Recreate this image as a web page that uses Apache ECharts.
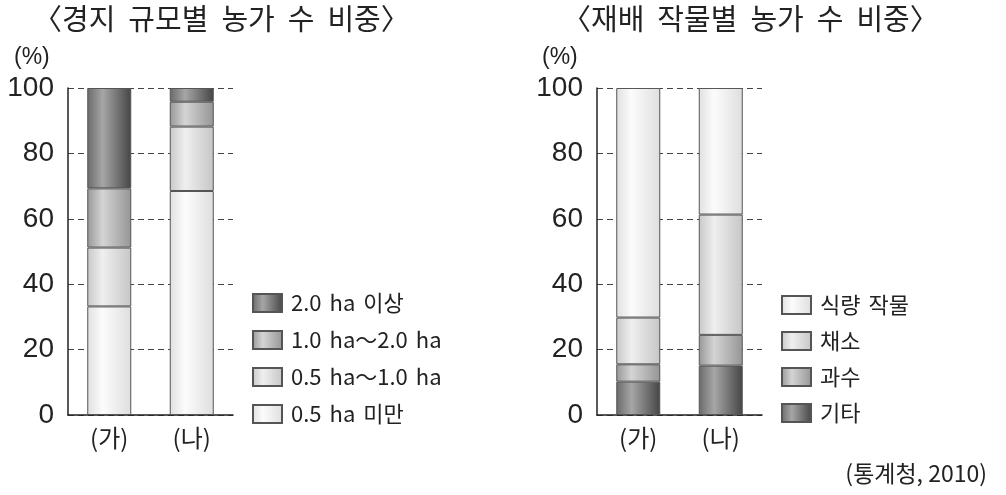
<!DOCTYPE html>
<html>
<head>
<meta charset="utf-8">
<script src="https://cdn.jsdelivr.net/npm/echarts@6/dist/echarts.min.js"></script>
<style>html,body{margin:0;padding:0;background:#fff}#c{width:1006px;height:495px}</style>
</head>
<body>
<div id="c"></div>
<script>
// ---- data ----
const categories = ['(가)', '(나)'];
const yTicks = [0, 20, 40, 60, 80, 100];

const leftTitle = '〈경지 규모별 농가 수 비중〉';
const rightTitle = '〈재배 작물별 농가 수 비중〉';
const sourceText = '(통계청, 2010)';

// 경지 규모별 (stack order bottom -> top)
const sizeNames = ['0.5 ha 미만', '0.5 ha～1.0 ha', '1.0 ha～2.0 ha', '2.0 ha 이상'];
const sizeBelow05 = [33.2, 68.5];
const size05to10 = [18.0, 19.7];
const size10to20 = [18.1, 7.6];
const sizeAbove20 = [30.7, 4.2];

// 재배 작물별 (stack order bottom -> top)
const cropNames = ['기타', '과수', '채소', '식량 작물'];
const cropOther = [10.2, 15.1];
const cropFruit = [5.3, 9.4];
const cropVeg = [14.3, 36.8];
const cropFood = [70.2, 38.7];

// ---- styles ----
function grad(l, p, r) {
  return new echarts.graphic.LinearGradient(0, 0, 1, 0, [
    {offset: 0, color: l}, {offset: 0.35, color: p}, {offset: 1, color: r}
  ]);
}
const shades = [
  grad('#e0e0e0', '#fcfcfc', '#dedede'),  // lightest
  grad('#c8c8c8', '#efefef', '#c6c6c6'),  // light
  grad('#979797', '#d4d4d4', '#959595'),  // mid
  grad('#6a6a6a', '#a6a6a6', '#454545')   // dark
];
const cropShades = [shades[3], shades[2], shades[1], shades[0]];

const KR = '"Noto Sans CJK KR", "Noto Sans", sans-serif';
const NUM = '"Liberation Sans", Arial, sans-serif';

const chart = echarts.init(document.getElementById('c'), null, {renderer: 'canvas'});

function mkSeries(names, datas, colors, gi, stack) {
  return names.map((n, i) => ({
    name: n, type: 'bar', stack: stack, xAxisIndex: gi, yAxisIndex: gi,
    barWidth: 44, data: datas[i],
    itemStyle: {color: colors[i], borderColor: '#555', borderWidth: 1},
    emphasis: {disabled: true}
  }));
}

const sizeSeries = mkSeries(sizeNames, [sizeBelow05, size05to10, size10to20, sizeAbove20], shades, 0, 's');
const cropSeries = mkSeries(cropNames, [cropOther, cropFruit, cropVeg, cropFood], cropShades, 1, 'c');

function xAx(gi) {
  return {
    type: 'category', gridIndex: gi, data: categories,
    axisLine: {lineStyle: {color: '#222', width: 1.5}},
    axisTick: {inside: true, length: 10, lineStyle: {color: '#222', width: 1.5}},
    axisLabel: {fontSize: 24, color: '#222', fontFamily: KR, margin: 11}
  };
}
function yAx(gi) {
  return {
    type: 'value', gridIndex: gi, min: yTicks[0], max: yTicks[yTicks.length - 1], interval: 20,
    axisLine: {show: true, lineStyle: {color: '#222', width: 1.5}},
    axisTick: {show: false},
    axisLabel: {fontSize: 28, color: '#222', fontFamily: NUM, margin: 14},
    splitLine: {show: true, lineStyle: {color: '#444', type: [6, 4], width: 1}}
  };
}

const spaced = s => s.replace(/ /g, '{s| }');

function legendCfg(left, top, names, fs, gap) {
  return {
    orient: 'vertical', left: left, top: top, padding: 0,
    itemWidth: 29, itemHeight: 18, itemGap: gap, icon: 'rect',
    data: names, selectedMode: false,
    formatter: n => spaced(n),
    textStyle: {
      fontSize: fs, lineHeight: 20, color: '#222', fontFamily: KR, padding: [0, 0, 0, 4],
      rich: {s: {width: 8, fontSize: fs, fontFamily: KR}}
    }
  };
}

function titleText(left, top, text) {
  return {
    type: 'text', left: left, top: top,
    style: {
      text: spaced(text), fill: '#222', fontSize: 29, fontFamily: KR,
      rich: {s: {width: 13, fontSize: 29, fontFamily: KR}}
    }
  };
}

const option = {
  animation: false,
  backgroundColor: '#fff',
  grid: [
    {left: 68, top: 88, width: 165, height: 327},
    {left: 597, top: 88, width: 165, height: 327}
  ],
  xAxis: [xAx(0), xAx(1)],
  yAxis: [yAx(0), yAx(1)],
  legend: [
    legendCfg(252, 292, sizeNames.slice().reverse(), 22, 15),
    legendCfg(781, 294, cropNames.slice().reverse(), 22, 14)
  ],
  graphic: [
    titleText(33, 4, leftTitle),
    titleText(562, 4, rightTitle),
    {type: 'text', left: 14, top: 46, style: {text: '(%)', font: '23px ' + NUM, fill: '#222'}},
    {type: 'text', left: 542, top: 46, style: {text: '(%)', font: '23px ' + NUM, fill: '#222'}},
    {type: 'text', right: 19, top: 462, style: {text: sourceText, font: '23px ' + KR, fill: '#222'}}
  ],
  series: sizeSeries.concat(cropSeries)
};
chart.setOption(option);
</script>
</body>
</html>
